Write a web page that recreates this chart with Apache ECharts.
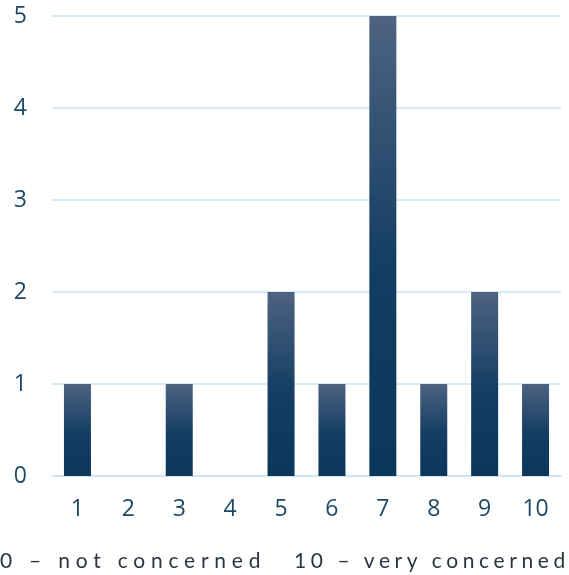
<!DOCTYPE html>
<html>
<head>
<meta charset="utf-8">
<style>
  html, body { margin: 0; padding: 0; background: #ffffff; }
  #chart { width: 569px; height: 575px; position: absolute; left: 0; top: 0; }
  .scale-note {
    position: absolute; top: 548px; height: 24px; line-height: 24px;
    font-family: "Lato", "Open Sans", sans-serif; font-size: 21px;
    letter-spacing: 4.6px; color: #2c3540; white-space: pre;
  }
</style>
<script src="https://cdn.jsdelivr.net/npm/echarts@6/dist/echarts.min.js"></script>
</head>
<body>
<div id="chart"></div>
<div class="scale-note" id="note-low" style="left:0px">0 – not concerned</div>
<div class="scale-note" id="note-high" style="left:294px">10 – very concerned</div>
<script>
// Concern rating (1–10) and number of responses
const categories = ['1', '2', '3', '4', '5', '6', '7', '8', '9', '10'];
const counts = [1, 0, 1, 0, 2, 1, 5, 1, 2, 1];
const yTicks = [0, 1, 2, 3, 4, 5];

const chart = echarts.init(document.getElementById('chart'));

const barFill = new echarts.graphic.LinearGradient(0, 0, 0, 1, [
  { offset: 0, color: '#4d6381' },
  { offset: 0.55, color: '#133d62' },
  { offset: 1, color: '#0b375b' }
]);

chart.setOption({
  animation: false,
  grid: { left: 52, right: 8, top: 16, bottom: 99, containLabel: false },
  xAxis: {
    type: 'category',
    data: categories,
    axisLine: { show: true, lineStyle: { color: '#cae3f5', width: 1.5 } },
    axisTick: { show: false },
    axisLabel: {
      margin: 22,
      color: '#1d4866',
      fontSize: 23,
      fontFamily: 'Open Sans, sans-serif'
    }
  },
  yAxis: {
    type: 'value',
    min: yTicks[0],
    max: yTicks[yTicks.length - 1],
    interval: 1,
    axisLine: { show: false },
    axisTick: { show: false },
    splitLine: { lineStyle: { color: '#cae3f5', width: 1.5 } },
    axisLabel: {
      margin: 25,
      color: '#1d4866',
      fontSize: 23,
      fontFamily: 'Open Sans, sans-serif'
    }
  },
  series: [{
    type: 'bar',
    data: counts,
    barWidth: 27,
    itemStyle: { color: barFill }
  }]
});

// Fit each half of the scale note to its span under the axis
function fitNote(id, right) {
  const el = document.getElementById(id);
  const left = el.offsetLeft;
  const w = el.scrollWidth;
  const target = right - left;
  const chars = el.textContent.length;
  const cur = parseFloat(getComputedStyle(el).letterSpacing) || 0;
  el.style.letterSpacing = (cur + (target - w) / chars) + 'px';
}
fitNote('note-low', 266);
fitNote('note-high', 570);
</script>
</body>
</html>
